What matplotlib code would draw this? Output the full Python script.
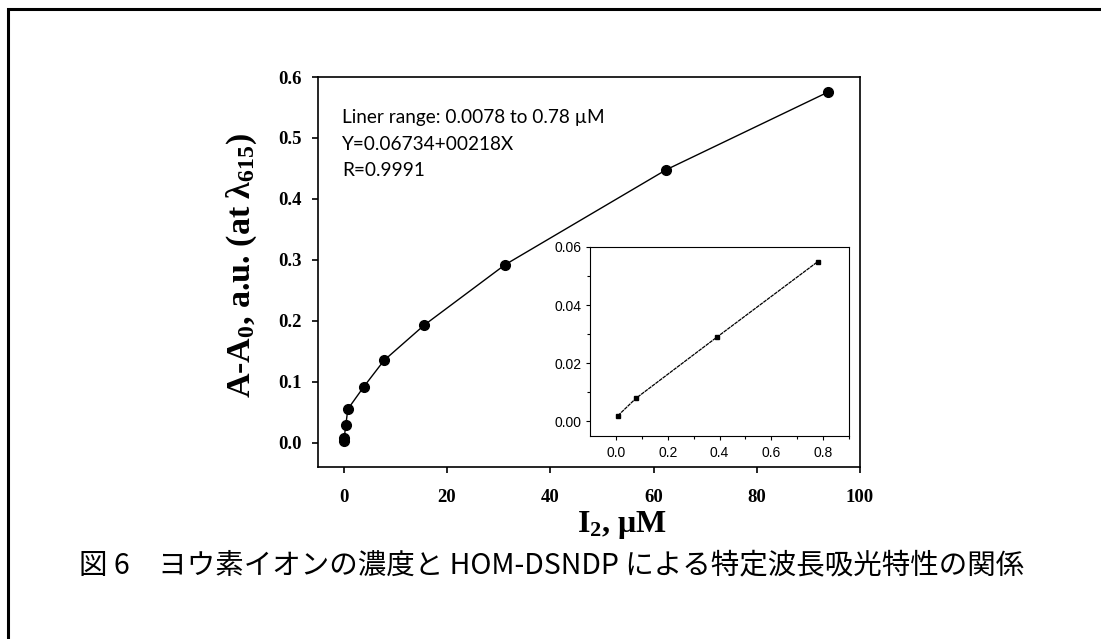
import matplotlib
matplotlib.use("Agg")
import matplotlib.pyplot as plt
from matplotlib.patches import Rectangle

# ---- data ----
conc_main = [0.0078, 0.078, 0.39, 0.78, 3.9, 7.8, 15.6, 31.25, 62.5, 93.75]
abs_main = [0.002, 0.008, 0.029, 0.055, 0.092, 0.135, 0.193, 0.292, 0.448, 0.575]
conc_inset = [0.0078, 0.078, 0.39, 0.78]
abs_inset = [0.002, 0.008, 0.029, 0.055]
main_xticks = [0, 20, 40, 60, 80, 100]
main_yticks = [0.0, 0.1, 0.2, 0.3, 0.4, 0.5, 0.6]
inset_xticks = [0.0, 0.2, 0.4, 0.6, 0.8]
inset_yticks = [0.00, 0.02, 0.04, 0.06]
annot_lines = ["Liner range: 0.0078 to 0.78 \u00b5M", "Y=0.06734+00218X", "R=0.9991"]
caption = "図 6\u3000ヨウ素イオンの濃度と HOM-DSNDP による特定波長吸光特性の関係"

serif = "Liberation Serif"
plt.rcParams["mathtext.fontset"] = "custom"
plt.rcParams["mathtext.rm"] = serif + ":bold"
plt.rcParams["mathtext.bf"] = serif + ":bold"
plt.rcParams["mathtext.it"] = serif + ":bold"
plt.rcParams["mathtext.default"] = "bf"

W, H = 1101, 639
fig = plt.figure(figsize=(W / 100, H / 100), dpi=100)

# outer frame (left & top visible)
fig.patches.append(Rectangle((8 / W, -0.05), 1.2, (1 - 9 / H) + 0.05, transform=fig.transFigure,
                             fill=False, lw=2.2, ec="black"))

ax = fig.add_axes([318 / W, 1 - 467 / H, 542 / W, 390 / H])
ax.plot(conc_main, abs_main, color="black", lw=1.0, marker="o", ms=7, mfc="black", mec="black")
ax.set_xlim(-5, 100)
ax.set_ylim(-0.04, 0.6)
ax.set_xticks(main_xticks)
ax.set_yticks(main_yticks)
ax.set_xticklabels([str(v) for v in main_xticks], fontfamily=serif, fontweight="bold", fontsize=13.5)
ax.set_yticklabels([f"{v:.1f}" for v in main_yticks], fontfamily=serif, fontweight="bold", fontsize=13.5)
ax.tick_params(direction="out", length=4, width=1.2, pad=8)
ax.tick_params(axis="x", pad=12)
for s in ax.spines.values():
    s.set_linewidth(1.2)
ax.set_xlabel(r"I$_2$, $\mu$M", fontfamily=serif, fontweight="bold", fontsize=23)
ax.xaxis.set_label_coords((622 - 318) / 542, -(525 - 467) / 390)
ax.xaxis.label.set_va("center")
ax.set_ylabel(r"A-A$_0$, a.u. (at $\lambda_{615}$)", fontfamily=serif, fontweight="bold",
              fontsize=24.5)
ax.yaxis.set_label_coords(-(318 - 242) / 542, (467 - 265) / 390)
ax.yaxis.label.set_va("center")

for i, line in enumerate(annot_lines):
    fig.text(342 / W, 1 - (118 + i * 26) / H, line, fontfamily="Lato", fontsize=13.7,
             va="center", ha="left")

# inset
axi = fig.add_axes([590 / W, 1 - 436 / H, 259 / W, 189 / H])
axi.plot(conc_inset, abs_inset, color="black", lw=0.9, ls=(0, (3, 0.6)), marker="s", ms=3.5,
         mfc="black", mec="black")
axi.set_xlim(-0.1, 0.9)
axi.set_ylim(-0.005, 0.06)
axi.set_xticks(inset_xticks)
axi.set_yticks(inset_yticks)
axi.set_xticks([0.1, 0.3, 0.5, 0.7, 0.9], minor=True)
axi.set_yticks([0.01, 0.03, 0.05], minor=True)
axi.set_xticklabels([f"{v:.1f}" for v in inset_xticks], fontfamily="Liberation Sans", fontsize=10)
axi.set_yticklabels([f"{v:.2f}" for v in inset_yticks], fontfamily="Liberation Sans", fontsize=10)
axi.tick_params(which="major", direction="out", length=3, width=0.8, pad=3)
axi.tick_params(axis="x", which="major", pad=4)
axi.tick_params(which="minor", direction="out", length=2, width=0.8)
for s in axi.spines.values():
    s.set_linewidth(0.8)

fig.text(552 / W, 1 - 565 / H, caption, family=["Noto Sans CJK JP", "DejaVu Sans"],
         fontsize=20.5, ha="center", va="center")

fig.savefig("out.png", dpi=100)
